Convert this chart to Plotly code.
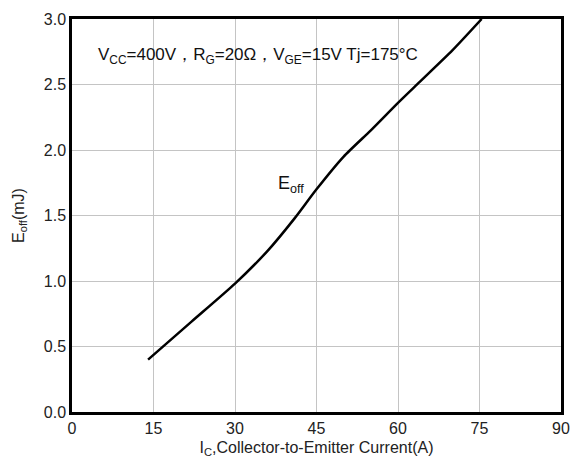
import plotly.graph_objects as go

ic = [14, 22, 30, 36, 41, 45, 50, 55, 60, 64, 70, 75.4]
eoff = [0.40, 0.69, 0.98, 1.23, 1.48, 1.70, 1.95, 2.15, 2.36, 2.52, 2.76, 3.0]

x_ticks = [0, 15, 30, 45, 60, 75, 90]
y_ticks = [0.0, 0.5, 1.0, 1.5, 2.0, 2.5, 3.0]

font_fam = "Liberation Sans, Arial, sans-serif"

fig = go.Figure()
fig.add_trace(go.Scatter(x=ic, y=eoff, mode="lines",
                         line=dict(color="black", width=2.5, shape="spline", smoothing=0.6),
                         showlegend=False, hoverinfo="skip"))

fig.add_annotation(x=4.5, y=2.72, xref="x", yref="y", xanchor="left", yanchor="middle",
                   text="V<sub>CC</sub>=400V，R<sub>G</sub>=20Ω，V<sub>GE</sub>=15V Tj=175°C",
                   showarrow=False, font=dict(family=font_fam, size=17, color="#111"))
fig.add_annotation(x=37.5, y=1.74, xref="x", yref="y", xanchor="left", yanchor="middle",
                   text="E<sub>off</sub>", showarrow=False,
                   font=dict(family=font_fam, size=18, color="#111"))

fig.update_layout(
    width=581, height=472,
    margin=dict(l=72, r=11, t=16, b=60),
    paper_bgcolor="white", plot_bgcolor="white",
    font=dict(family=font_fam, size=16, color="#222"),
    xaxis=dict(range=[0, 90], tickvals=x_ticks, ticktext=[str(v) for v in x_ticks],
               showgrid=True, gridcolor="#c4c4c4", gridwidth=1,
               showline=True, linecolor="black", linewidth=2.5, mirror=True,
               ticks="", zeroline=False,
               title=dict(text="I<sub>C</sub>,Collector-to-Emitter Current(A)",
                          font=dict(size=16, color="#222"), standoff=6)),
    yaxis=dict(range=[0, 3.0], tickvals=y_ticks, ticktext=[f"{v:.1f}" for v in y_ticks],
               showgrid=True, gridcolor="#c4c4c4", gridwidth=1,
               showline=True, linecolor="black", linewidth=2.5, mirror=True,
               ticks="", zeroline=False,
               title=dict(text="E<sub>off</sub>(mJ)", font=dict(size=16, color="#222"), standoff=16)),
)

fig.write_html("out.html")
